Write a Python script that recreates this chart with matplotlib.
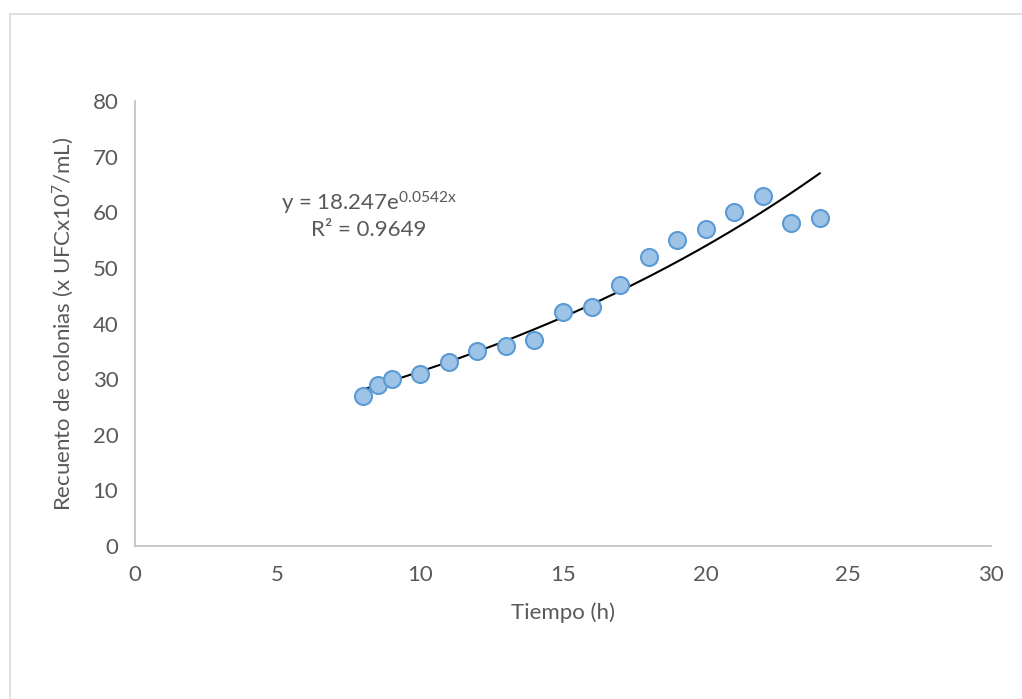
import numpy as np
import matplotlib
matplotlib.use("Agg")
import matplotlib.pyplot as plt
from matplotlib.patches import Rectangle

# Data
tiempo = [8, 8.5, 9, 10, 11, 12, 13, 14, 15, 16, 17, 18, 19, 20, 21, 22, 23, 24]
recuento = [27, 29, 30, 31, 33, 35, 36, 37, 42, 43, 47, 52, 55, 57, 60, 63, 58, 59]
x_ticks = [0, 5, 10, 15, 20, 25, 30]
y_ticks = [0, 10, 20, 30, 40, 50, 60, 70, 80]
trend_a = 18.247
trend_b = 0.0542
trend_r2 = 0.9649

plt.rcParams['font.family'] = ['Lato', 'DejaVu Sans']
plt.rcParams['mathtext.default'] = 'regular'
txt = '#595959'
fs = 16

fig = plt.figure(figsize=(10.22, 6.99), dpi=100)
fig.patches.append(Rectangle((10/1022, -0.1), 1.2, 1 - 14/699 + 0.1, transform=fig.transFigure,
                             fill=False, edgecolor='#d9d9d9', linewidth=1.2))
ax = fig.add_axes([135/1022, 1 - 546/699, (991 - 135)/1022, (546 - 101)/699])

xt = np.linspace(min(tiempo), max(tiempo), 200)
ax.plot(xt, trend_a * np.exp(trend_b * xt), color='black', lw=1.5, zorder=2)
ax.scatter(tiempo, recuento, s=150, facecolor='#9dc3e6', edgecolor='#5b9bd5', linewidths=1.5, zorder=3)

ax.set_xlim(0, 30)
ax.set_ylim(0, 80)
ax.set_xticks(x_ticks)
ax.set_yticks(y_ticks)
ax.tick_params(length=0, labelsize=fs, colors=txt)
ax.tick_params(axis='x', pad=14)
ax.tick_params(axis='y', pad=12)
for s in ['top', 'right']:
    ax.spines[s].set_visible(False)
for s in ['left', 'bottom']:
    ax.spines[s].set_color('#bfbfbf')
    ax.spines[s].set_linewidth(1.2)

ax.set_xlabel('Tiempo (h)', fontsize=fs, color=txt, labelpad=12)
ax.set_ylabel('Recuento de colonias (x UFCx10$^{7}$/mL)', fontsize=fs, color=txt, labelpad=12)

ax.text(8.2, 61.6, r'y = 18.247e$^{0.0542x}$', fontsize=fs, color=txt, ha='center', va='center')
ax.text(8.2, 56.8, 'R² = 0.9649', fontsize=fs, color=txt, ha='center', va='center')

fig.savefig('out.png', dpi=100)
